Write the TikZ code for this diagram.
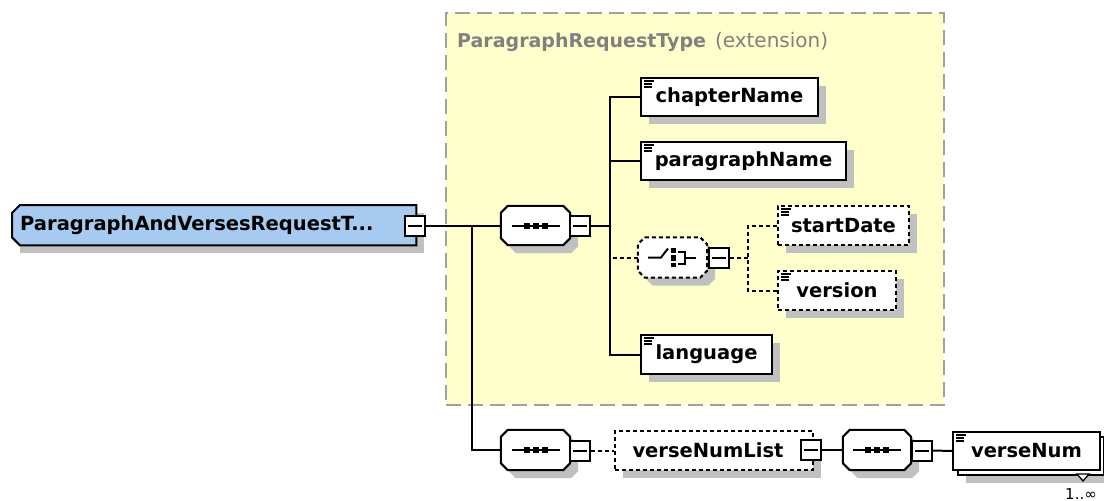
\documentclass[tikz,border=0pt]{standalone}
\usepackage{fontspec}
\setmainfont{DejaVu Sans}
\usetikzlibrary{shadows}
\definecolor{ybg}{RGB}{255,255,204}
\definecolor{ygray}{RGB}{160,160,160}
\definecolor{rootblue}{RGB}{166,202,240}
\definecolor{shd}{RGB}{192,192,192}
\definecolor{titlegray}{RGB}{128,128,128}
\newcommand\elfont{\fontsize{19.5}{20}\selectfont\bfseries}
\tikzset{
  shadowed/.style={general shadow={fill=shd, shadow xshift=8pt, shadow yshift=-8pt}},
  boxbase/.style={draw=black, fill=white, line width=2pt, rectangle, anchor=north west, inner sep=0pt, font=\elfont},
  iconed/.style={path picture={
      \draw[line width=1.3pt, solid]
        ([shift={(3pt,-3pt)}]path picture bounding box.north west) -- ++(10pt,0pt)
        ([shift={(3pt,-6pt)}]path picture bounding box.north west) -- ++(8pt,0pt)
        ([shift={(3pt,-9pt)}]path picture bounding box.north west) -- ++(8pt,0pt);}},
  elem/.style={boxbase, shadowed, iconed},
  optdash/.style={dash pattern=on 4pt off 3pt},
  holder/.style={draw=none, rectangle, inner sep=0pt},
  octline/.style={draw=black, fill=white, line width=2pt},
  minusbox/.style={draw=black, fill=white, line width=2pt, minimum size=20pt, inner sep=0pt,
    path picture={\draw[line width=2pt] ([xshift=3pt]path picture bounding box.west) -- ([xshift=-3pt]path picture bounding box.east);}},
  conn/.style={draw=black, line width=2pt},
  optconn/.style={conn, optdash}
}
\newcommand\octapath[1]{([xshift=7pt]#1.north west) -- ([xshift=-7pt]#1.north east) -- ([yshift=-7pt]#1.north east)
  -- ([yshift=7pt]#1.south east) -- ([xshift=-7pt]#1.south east) -- ([xshift=7pt]#1.south west)
  -- ([yshift=7pt]#1.south west) -- ([yshift=-7pt]#1.north west) -- cycle}
\newcommand\octadraw[2]{%
  \fill[shd, transform canvas={shift={(8pt,-8pt)}}] \octapath{#1};
  \draw[octline, #2] \octapath{#1};}
\newcommand\seqicon[1]{%
  \begin{scope}[shift={(#1.center)}]
    \draw[line width=2pt] (-24,0) -- (24,0);
    \fill (-12,-3) rectangle (-6,3);
    \fill (-3,-3) rectangle (3,3);
    \fill (6,-3) rectangle (12,3);
  \end{scope}}
\begin{document}
\begin{tikzpicture}[x=1pt,y=-1pt]
\useasboundingbox (0,0) rectangle (1104,501);
% extension container
\node[draw=ygray, fill=ybg, line width=2pt, dash pattern=on 15pt off 7pt, rectangle, anchor=north west,
  minimum width=498pt, minimum height=392pt, inner sep=0pt] (ext) at (445,12) {};
\node[anchor=base west, text=titlegray, inner sep=0pt] (title) at (457,47)
  {\fontsize{19}{20}\selectfont\bfseries ParagraphRequestType\hspace{9pt}\fontsize{20}{20}\selectfont\mdseries(extension)};
% root
\node[holder, minimum width=404pt, minimum height=40pt, anchor=north west] (root) at (12,205) {};
\fill[shd, transform canvas={shift={(8pt,-8pt)}}] (root.north east) -- (root.south east) -- (root.south west) -- (root.north west) -- cycle;
\draw[draw=black, fill=rootblue, line width=2pt] ([xshift=8pt]root.north west) -- (root.north east) -- (root.south east)
  -- ([xshift=8pt]root.south west) -- ([yshift=8pt]root.south west) -- ([yshift=-8pt]root.north west) -- cycle;
\node[anchor=west, font=\elfont, inner sep=0pt] (rootlbl) at (20,225) {ParagraphAndVersesRequestT...};
\node[minusbox] (m0) at (415,225.5) {};
% sequence 1
\node[holder, minimum width=69pt, minimum height=39pt] (s1) at (535.5,225.5) {};
\octadraw{s1}{}
\seqicon{s1}
\node[minusbox] (m1) at (580,225.5) {};
% children
\node[elem, minimum width=177pt, minimum height=38pt] (cn) at (640,77) {chapterName};
\node[elem, minimum width=205pt, minimum height=38pt] (pn) at (640,141) {paragraphName};
\node[holder, minimum width=69pt, minimum height=40pt] (ch) at (672.5,257.5) {};
\octadraw{ch}{optdash}
\begin{scope}[shift={(ch.center)}, line width=2pt]
  \draw (-24.5,0) -- (-11.5,0) -- (-4.5,-9);
  \fill (-2,-9.5) rectangle (3,-5);
  \fill (-2,-3) rectangle (3,3);
  \fill (-2,5) rectangle (3,9.5);
  \draw (5.5,-6) -- (12.5,-6) -- (12.5,6) -- (5.5,6);
  \draw (12.5,0) -- (23.5,0);
\end{scope}
\node[minusbox] (mc) at (718.5,258) {};
\node[elem, optdash, minimum width=131pt, minimum height=39pt] (sd) at (777,205) {startDate};
\node[elem, optdash, minimum width=118pt, minimum height=39pt] (ver) at (777,270) {version};
\node[elem, minimum width=131pt, minimum height=39pt] (lang) at (640,334) {language};
% sequence 2 branch
\node[holder, minimum width=69pt, minimum height=40pt] (s2) at (535.5,450) {};
\octadraw{s2}{}
\seqicon{s2}
\node[minusbox] (m2) at (580,450.5) {};
\node[boxbase, shadowed, optdash, minimum width=198pt, minimum height=39pt] (vnl) at (614,430) {\hspace{-12pt}verseNumList};
\node[minusbox] (mv) at (811,450) {};
\node[holder, minimum width=68pt, minimum height=40pt] (s3) at (877,450) {};
\octadraw{s3}{}
\seqicon{s3}
\node[minusbox] (m3) at (922,450.5) {};
\node[boxbase, shadowed, minimum width=146pt, minimum height=38pt] (vnb) at (957,436) {};
\node[boxbase, iconed, minimum width=147pt, minimum height=38pt] (vn) at (952,431) {verseNum};
\draw[fill=white, line width=1.3pt] (1077,474) -- (1089,474) -- (1083,481) -- cycle;
\node[anchor=base, font=\fontsize{15}{15}\selectfont, inner sep=0pt] (card) at (1081,499) {1..∞};
% connectors
\coordinate (j0) at (472,225.5);
\coordinate (j1) at (610,225.5);
\coordinate (j2) at (748,258);
\draw[conn] (m0.east) -- (s1.west);
\draw[conn] (j0) |- (s2.west);
\draw[conn] (m1.east) -- (j1);
\draw[conn] (cn.west) -| (j1) |- (lang.west);
\draw[conn] (pn.west) -- (pn.west -| j1);
\draw[optconn] (ch.west) -- (ch.west -| j1);
\draw[optconn] (mc.east) -- (j2);
\draw[optconn] (sd.west) -| (j2) |- (ver.west);
\draw[optconn] (m2.east) -- (vnl.west);
\draw[conn] (mv.east) -- (s3.west);
\draw[conn] (m3.east) -- (vn.west);
\end{tikzpicture}
\end{document}
